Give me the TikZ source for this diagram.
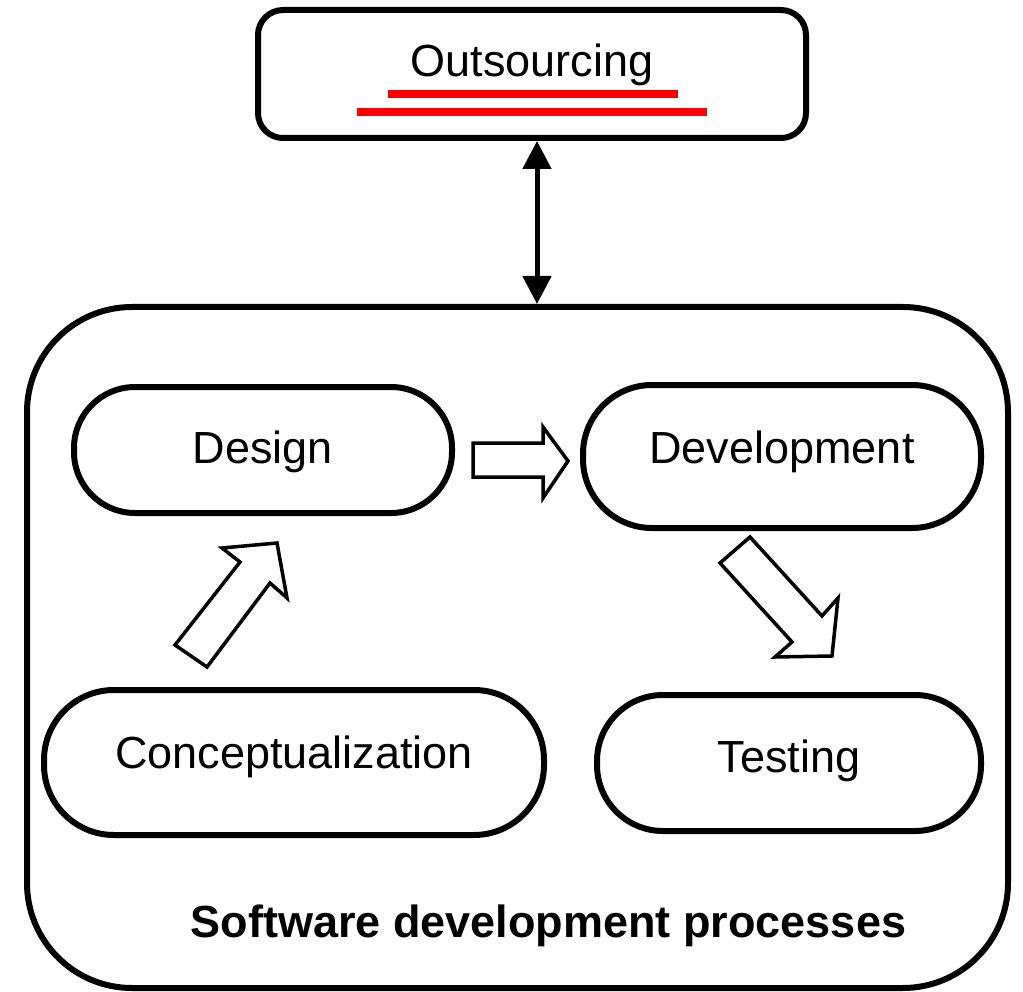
\documentclass[tikz,border=0pt]{standalone}
\usepackage{fontspec}
\setmainfont{Liberation Sans}
\usetikzlibrary{arrows.meta}
\begin{document}
\begin{tikzpicture}[x=1pt,y=-1pt,
  every node/.style={font=\fontsize{45pt}{54pt}\selectfont},
  roundbox/.style={draw=black, line width=6pt, rectangle, rounded corners=#1, inner sep=0pt, text height=32pt},
  dblarrow/.style={line width=5pt, {Triangle[width=28pt,length=28pt]}-{Triangle[width=28pt,length=28pt]}},
  redline/.style={draw={rgb,255:red,255;green,0;blue,0}, line width=7.5pt},
  blockarrow/.style={draw=black, line width=3.5pt, fill=white, line join=miter},
  title/.style={font=\fontsize{45pt}{54pt}\selectfont\bfseries}
]
\useasboundingbox (0,0) rectangle (1023,992);

% outer container
\node[roundbox=105pt, minimum width=981pt, minimum height=681pt] (sdp) at (517.5,647.5) {};

% outsourcing box
\node[roundbox=25pt, minimum width=548pt, minimum height=128pt, text depth=26pt] (out) at (532,74) {Outsourcing};
\draw[redline] (388,94) -- (678,94);
\draw[redline] (357,112) -- (707,112);

% double arrow
\coordinate (ax) at (537,0);
\draw[dblarrow] (out.south -| ax) -- (sdp.north -| ax);

% process nodes
\node[roundbox=61pt, minimum width=378pt, minimum height=126pt, text depth=6pt] (design) at (263,450) {Design};
\node[roundbox=69pt, minimum width=398pt, minimum height=143pt, text depth=19pt] (dev) at (782,456.5) {Development};
\node[roundbox=70pt, minimum width=500pt, minimum height=145pt, text depth=21pt] (concept) at (294,762.5) {Conceptualization};
\node[roundbox=66pt, minimum width=384pt, minimum height=136pt, text depth=14pt] (test) at (789,763) {Testing};

% block arrows
\draw[blockarrow] (473,443) -- (543,443) -- (543,427) -- (568,461) -- (543,498) -- (543,477) -- (473,477) -- cycle;
\draw[blockarrow] (207,667) -- (270,583) -- (287,598) -- (277,543) -- (222,548) -- (240,562) -- (175,645) -- cycle;
\draw[blockarrow] (750,537) -- (822,616) -- (838,598) -- (832,656) -- (775,657) -- (792,642) -- (720,563) -- cycle;

% caption
\node[title, anchor=base] (cap) at (548.5,937) {Software development processes};
\end{tikzpicture}
\end{document}
